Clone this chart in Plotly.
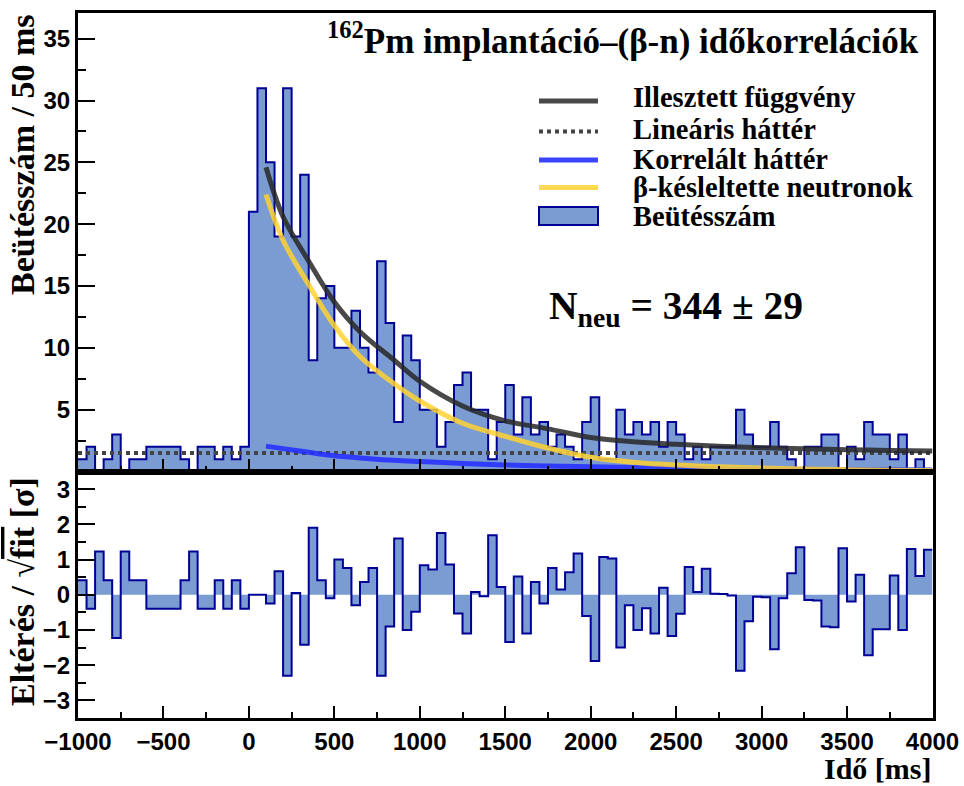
import plotly.graph_objects as go

# ---------------- data ----------------
bin_start = -1000          # ms
bin_width = 50             # ms
counts = [1, 2, 0, 1, 3, 0, 1, 1, 2, 2,
          2, 2, 1, 0, 2, 2, 1, 2, 1, 2,
          21, 31, 25, 19, 31, 19, 24, 9, 14, 15,
          10, 10, 13, 10, 8, 17, 12, 4, 11, 9,
          5, 5, 2, 4, 7, 8, 5, 5, 1, 4,
          7, 3, 6, 3, 4, 2, 3, 2, 1, 4,
          6, 1, 1, 5, 3, 4, 3, 4, 2, 4,
          3, 1, 2, 1, 2, 2, 2, 5, 3, 2,
          2, 4, 2, 1, 0, 2, 2, 3, 3, 0,
          2, 1, 4, 3, 3, 1, 3, 0, 1, 0]

residuals = [0.41, -0.40, 1.23, 0.41, -1.23, 1.23, 0.41, 0.41, -0.40, -0.40,
             -0.40, -0.40, 0.41, 1.23, -0.40, -0.40, 0.41, -0.40, 0.41, -0.40,
             0.00, 0.00, -0.25, 0.67, -2.30, 0.05, -1.42, 1.90, 0.41, -0.10,
             1.00, 0.76, -0.30, 0.36, 0.76, -2.30, -0.90, 1.60, -1.00, -0.48,
             0.84, 0.72, 1.75, 0.86, -0.53, -1.10, 0.08, -0.04, 1.69, 0.22,
             -1.34, 0.52, -1.10, 0.36, -0.25, 0.76, 0.15, 0.64, 1.17, -0.60,
             -1.88, 1.07, 1.03, -1.50, -0.30, -1.00, -0.38, -1.10, 0.20, -1.17,
             -0.54, 0.79, 0.08, 0.74, 0.03, 0.02, -0.02, -2.16, -0.75, -0.06,
             -0.07, -1.55, -0.10, 0.61, 1.35, -0.15, -0.16, -0.90, -0.92, 1.32,
             -0.19, 0.57, -1.72, -0.98, -0.98, 0.55, -1.00, 1.30, 0.53, 1.28]

fit_t = [100, 200, 350, 500, 650, 850, 1000, 1250, 1500, 1750,
         2000, 2250, 2500, 2750, 3000, 3250, 3500, 3750, 4000]
fit_total = [24.6, 20.6, 17.0, 13.7, 11.3, 9.0, 7.3, 5.3, 4.1, 3.45,
             2.75, 2.4, 2.2, 2.05, 1.93, 1.83, 1.76, 1.70, 1.66]
fit_neutron = [22.4, 18.7, 15.1, 11.8, 9.3, 7.1, 5.7, 3.9, 2.85, 1.9,
               1.15, 0.75, 0.52, 0.38, 0.28, 0.2, 0.15, 0.11, 0.08]
fit_corr_bg = [2.05, 1.85, 1.55, 1.28, 1.1, 0.9, 0.8, 0.65, 0.53, 0.45,
               0.38, 0.32, 0.27, 0.23, 0.2, 0.18, 0.16, 0.14, 0.12]
lin_bg_t = [-1000, 4000]
lin_bg = [1.5, 1.5]

x_ticks = [-1000, -500, 0, 500, 1000, 1500, 2000, 2500, 3000, 3500, 4000]
y_top_ticks = [5, 10, 15, 20, 25, 30, 35]
y_bot_ticks = [-3, -2, -1, 0, 1, 2, 3]

legend_labels = ["Illesztett függvény", "Lineáris háttér", "Korrelált háttér",
                 "β-késleltette neutronok", "Beütésszám"]

# ---------------- styles ----------------
W, H = 964, 786
FILL = "rgb(122,156,210)"
EDGE = "rgb(0,0,150)"
C_TOT = "rgba(40,40,40,0.85)"
C_NEU = "rgba(255,210,50,0.85)"
C_COR = "rgba(40,50,255,0.9)"
C_LIN = "rgb(68,68,68)"
SERIF = "Liberation Serif"
SANS = "Liberation Sans"

edges = [bin_start + bin_width * i for i in range(len(counts) + 1)]
step_counts = counts + [counts[-1]]
step_res = residuals + [residuals[-1]]

fig = go.Figure()

# histogram (top)
fig.add_trace(go.Scatter(x=edges, y=step_counts, mode="lines", line_shape="hv",
                         line=dict(color=EDGE, width=2), fill="tozeroy",
                         fillcolor=FILL, xaxis="x", yaxis="y", showlegend=False,
                         name=legend_labels[4]))
fig.add_trace(go.Scatter(x=lin_bg_t, y=lin_bg, mode="lines",
                         line=dict(color=C_LIN, width=4, dash="4px,4px"),
                         xaxis="x", yaxis="y", showlegend=False, name=legend_labels[1]))
fig.add_trace(go.Scatter(x=fit_t, y=fit_corr_bg, mode="lines", line_shape="spline",
                         line=dict(color=C_COR, width=5),
                         xaxis="x", yaxis="y", showlegend=False, name=legend_labels[2]))
fig.add_trace(go.Scatter(x=fit_t, y=fit_neutron, mode="lines", line_shape="spline",
                         line=dict(color=C_NEU, width=5),
                         xaxis="x", yaxis="y", showlegend=False, name=legend_labels[3]))
fig.add_trace(go.Scatter(x=fit_t, y=fit_total, mode="lines", line_shape="spline",
                         line=dict(color=C_TOT, width=5),
                         xaxis="x", yaxis="y", showlegend=False, name=legend_labels[0]))

# residuals (bottom)
fig.add_trace(go.Scatter(x=edges, y=step_res, mode="lines", line_shape="hv",
                         line=dict(color=EDGE, width=2), fill="tozeroy",
                         fillcolor=FILL, xaxis="x2", yaxis="y2", showlegend=False))

xdom = [78 / W, 932.5 / W]
top_dom = [1 - 471.5 / H, 1 - 12.7 / H]
bot_dom = [1 - 718 / H, 1 - 471.5 / H]

tickfont = dict(family=SANS, size=24, color="black", weight="bold")
common_axis = dict(showline=True, mirror=True, linecolor="black", linewidth=3,
                   showgrid=False, zeroline=False, ticks="inside",
                   tickcolor="black", tickwidth=2, automargin=False)

fig.update_layout(
    template="none",
    width=W, height=H, margin=dict(l=0, r=0, t=0, b=0, autoexpand=False),
    paper_bgcolor="white", plot_bgcolor="white", showlegend=False,
    xaxis=dict(domain=xdom, range=[-1000, 4000], anchor="y",
               tickvals=x_ticks, showticklabels=False, ticklen=13,
               minor=dict(dtick=250, tick0=0, ticks="inside", ticklen=6,
                          tickcolor="black", tickwidth=2, showgrid=False),
               **common_axis),
    yaxis=dict(domain=top_dom, range=[0, 37.1], anchor="x",
               tickvals=y_top_ticks, ticklen=17, tickfont=tickfont,
               minor=dict(dtick=2.5, tick0=0, ticks="inside", ticklen=8,
                          tickcolor="black", tickwidth=2, showgrid=False),
               **common_axis),
    xaxis2=dict(domain=xdom, range=[-1000, 4000], anchor="y2",
                tickvals=x_ticks, ticklen=12, tickfont=tickfont,
                minor=dict(dtick=250, tick0=0, ticks="inside", ticklen=6,
                           tickcolor="black", tickwidth=2, showgrid=False),
                **common_axis),
    yaxis2=dict(domain=bot_dom, range=[-3.5, 3.5], anchor="x2",
                tickvals=y_bot_ticks, ticklen=17, tickfont=tickfont,
                minor=dict(dtick=0.5, tick0=0, ticks="inside", ticklen=8,
                           tickcolor="black", tickwidth=2, showgrid=False),
                **common_axis),
)

def px(x):
    return x / W

def py(y):
    return 1 - y / H

ann = []
# title
ann.append(dict(x=px(921), y=py(38), xref="paper", yref="paper", xanchor="right",
                yanchor="middle", showarrow=False,
                text="<b><sup>162</sup>Pm implantáció–(β-n) időkorrelációk</b>",
                font=dict(family=SERIF, size=35, color="black")))
# axis titles
ann.append(dict(x=px(22), y=py(155), xref="paper", yref="paper", textangle=-90,
                xanchor="center", yanchor="middle", showarrow=False,
                text="<b>Beütésszám / 50 ms</b>",
                font=dict(family=SERIF, size=34, color="black")))
ann.append(dict(x=px(22), y=py(592), xref="paper", yref="paper", textangle=-90,
                xanchor="center", yanchor="middle", showarrow=False,
                text="<b>Eltérés / √<span style='text-decoration:overline'>fit</span> [σ]</b>",
                font=dict(family=SERIF, size=34, color="black")))
ann.append(dict(x=px(933), y=0.0, xref="paper", yref="paper", xanchor="right",
                yanchor="bottom", showarrow=False, text="<b>Idő [ms]</b>",
                borderpad=0, font=dict(family=SERIF, size=30, color="black")))
# N_neu
ann.append(dict(x=px(547), y=py(308), xref="paper", yref="paper", xanchor="left",
                yanchor="middle", showarrow=False,
                text="<b>N<sub>neu</sub> = 344 ± 29</b>",
                font=dict(family=SERIF, size=39.5, color="black")))

# legend (manual, ROOT-style)
leg_y = [98, 130, 159, 187, 216]
for lab, yy in zip(legend_labels, leg_y):
    ann.append(dict(x=px(631), y=py(yy), xref="paper", yref="paper", xanchor="left",
                    yanchor="middle", showarrow=False, text="<b>" + lab + "</b>",
                    font=dict(family=SERIF, size=28.5, color="black")))

shapes = []
sx0, sx1 = px(539), px(598)
shapes.append(dict(type="line", xref="paper", yref="paper", x0=sx0, x1=sx1,
                   y0=py(101), y1=py(101), line=dict(color=C_TOT, width=5)))
shapes.append(dict(type="line", xref="paper", yref="paper", x0=sx0, x1=sx1,
                   y0=py(131.5), y1=py(131.5), line=dict(color=C_LIN, width=4, dash="4px,4px")))
shapes.append(dict(type="line", xref="paper", yref="paper", x0=sx0, x1=sx1,
                   y0=py(160), y1=py(160), line=dict(color=C_COR, width=5)))
shapes.append(dict(type="line", xref="paper", yref="paper", x0=sx0, x1=sx1,
                   y0=py(187.5), y1=py(187.5), line=dict(color=C_NEU, width=5)))
shapes.append(dict(type="rect", xref="paper", yref="paper", x0=sx0, x1=sx1,
                   y0=py(225), y1=py(207), fillcolor=FILL,
                   line=dict(color=EDGE, width=2)))

fig.update_layout(annotations=ann, shapes=shapes)

fig.write_html("out.html")
